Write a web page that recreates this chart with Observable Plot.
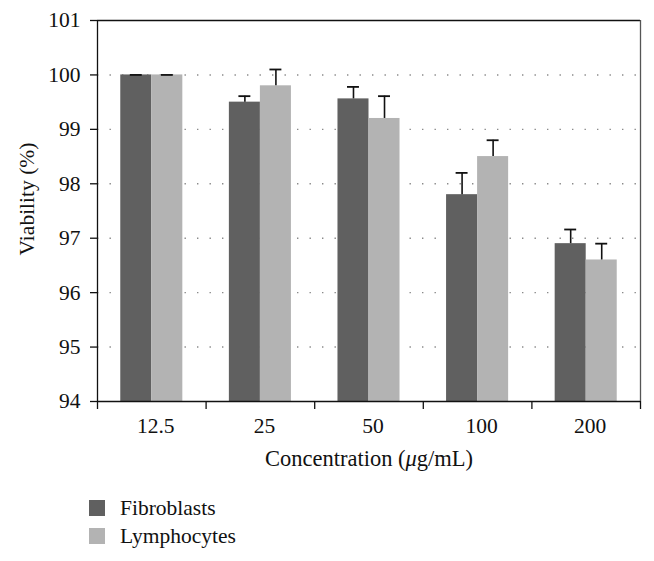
<!DOCTYPE html>
<html>
<head>
<meta charset="utf-8">
<script src="https://cdn.jsdelivr.net/npm/d3@7"></script>
<script src="https://cdn.jsdelivr.net/npm/@observablehq/plot@0.6"></script>
<style>
  html, body { margin: 0; padding: 0; background: #fff; }
  #chart { width: 654px; }
  .legend { font-family: "Liberation Serif", serif; font-size: 21.5px; color: #111; margin-top: 14px; margin-left: 89px; }
  .legend .row { display: flex; align-items: center; height: 28px; }
  .legend .sw { width: 16px; height: 16px; margin-right: 15px; }
</style>
</head>
<body>
<div id="chart"></div>
<script>
const concentrations = ["12.5", "25", "50", "100", "200"];
const series = ["Fibroblasts", "Lymphocytes"];
const fibroblasts = [100, 99.5, 99.56, 97.8, 96.9];
const fibroblastsErr = [0, 0.11, 0.22, 0.4, 0.26];
const lymphocytes = [100, 99.8, 99.2, 98.5, 96.6];
const lymphocytesErr = [0, 0.3, 0.41, 0.3, 0.3];
const yTicks = [94, 95, 96, 97, 98, 99, 100, 101];
const colors = ["#606060", "#b3b3b3"];
const yLabel = "Viability (%)";
const xLabel = "Concentration (μg/mL)";

// within-group layout from a band scale over the unit interval
const inner = d3.scaleBand().domain(series).range([0, 1]).paddingInner(0).paddingOuter(0.75);
const capHalf = 0.055;

const rows = concentrations.flatMap((c, i) => series.map((s, k) => {
  const value = k === 0 ? fibroblasts[i] : lymphocytes[i];
  const err = k === 0 ? fibroblastsErr[i] : lymphocytesErr[i];
  const x1 = i + inner(s);
  const x2 = x1 + inner.bandwidth();
  return {c, s, value, top: value + err, x1, x2, xc: (x1 + x2) / 2};
}));

const boundaries = d3.range(concentrations.length + 1);
const centers = concentrations.map((_, i) => i + 0.5);

const chart = Plot.plot({
  width: 654,
  height: 480,
  marginLeft: 97,
  marginRight: 14,
  marginTop: 20,
  marginBottom: 79,
  style: {fontFamily: "Liberation Serif, serif", fontSize: "21.5px", color: "#111", background: "#fff"},
  x: {type: "linear", domain: [0, concentrations.length]},
  y: {domain: [94, 101]},
  color: {domain: series, range: colors},
  marks: [
    Plot.gridY({ticks: [95, 96, 97, 98, 99, 100], stroke: "#8a8a8a", strokeOpacity: 1, strokeWidth: 1.4, strokeDasharray: "1.4,11.1"}),
    Plot.rectY(rows, {x1: "x1", x2: "x2", y1: 94, y2: "value", fill: "s"}),
    Plot.ruleX(rows, {x: "xc", y1: "value", y2: "top", stroke: "#111", strokeWidth: 1.6}),
    Plot.ruleY(rows, {y: "top", x1: d => d.xc - capHalf, x2: d => d.xc + capHalf, stroke: "#111", strokeWidth: 1.8}),
    Plot.ruleY([101], {stroke: "#111", strokeWidth: 1.3}),
    Plot.ruleX([concentrations.length], {stroke: "#555", strokeWidth: 1.3}),
    Plot.ruleX([0], {stroke: "#111", strokeWidth: 1.3}),
    Plot.ruleY([94], {stroke: "#111", strokeWidth: 1.3}),
    Plot.axisY({ticks: yTicks, tickSize: 7, tickPadding: 10, tickFormat: d => String(d), label: null, strokeWidth: 1.3}),
    Plot.text([yLabel], {frameAnchor: "left", rotate: -90, dx: -70, dy: -12, textAnchor: "middle", lineAnchor: "middle", fill: "#111"}),
    Plot.axisX({ticks: boundaries, tickSize: 8, tickFormat: () => "", label: null, strokeWidth: 1.3}),
    Plot.axisX({ticks: centers, tickSize: 0, tickPadding: 16, tickFormat: (d) => concentrations[Math.floor(d)], label: xLabel, labelAnchor: "center", labelArrow: "none", labelOffset: 64, dx: 4})
  ]
});
document.getElementById("chart").appendChild(chart);

// italicise the μ in the x-axis label
chart.querySelectorAll("text").forEach(t => {
  if (t.textContent === xLabel) {
    t.textContent = "";
    t.setAttribute("font-size", "22.5px");
    const parts = [["Concentration (", null], ["μ", "italic"], ["g/mL)", null]];
    parts.forEach(([txt, st]) => {
      const ts = document.createElementNS("http://www.w3.org/2000/svg", "tspan");
      ts.textContent = txt;
      if (st) ts.setAttribute("font-style", st);
      t.appendChild(ts);
    });
  }
});

const legend = document.createElement("div");
legend.className = "legend";
series.forEach((s, k) => {
  const row = document.createElement("div");
  row.className = "row";
  const sw = document.createElement("span");
  sw.className = "sw";
  sw.style.background = colors[k];
  const t = document.createElement("span");
  t.textContent = s;
  row.appendChild(sw);
  row.appendChild(t);
  legend.appendChild(row);
});
document.getElementById("chart").appendChild(legend);
</script>
</body>
</html>
